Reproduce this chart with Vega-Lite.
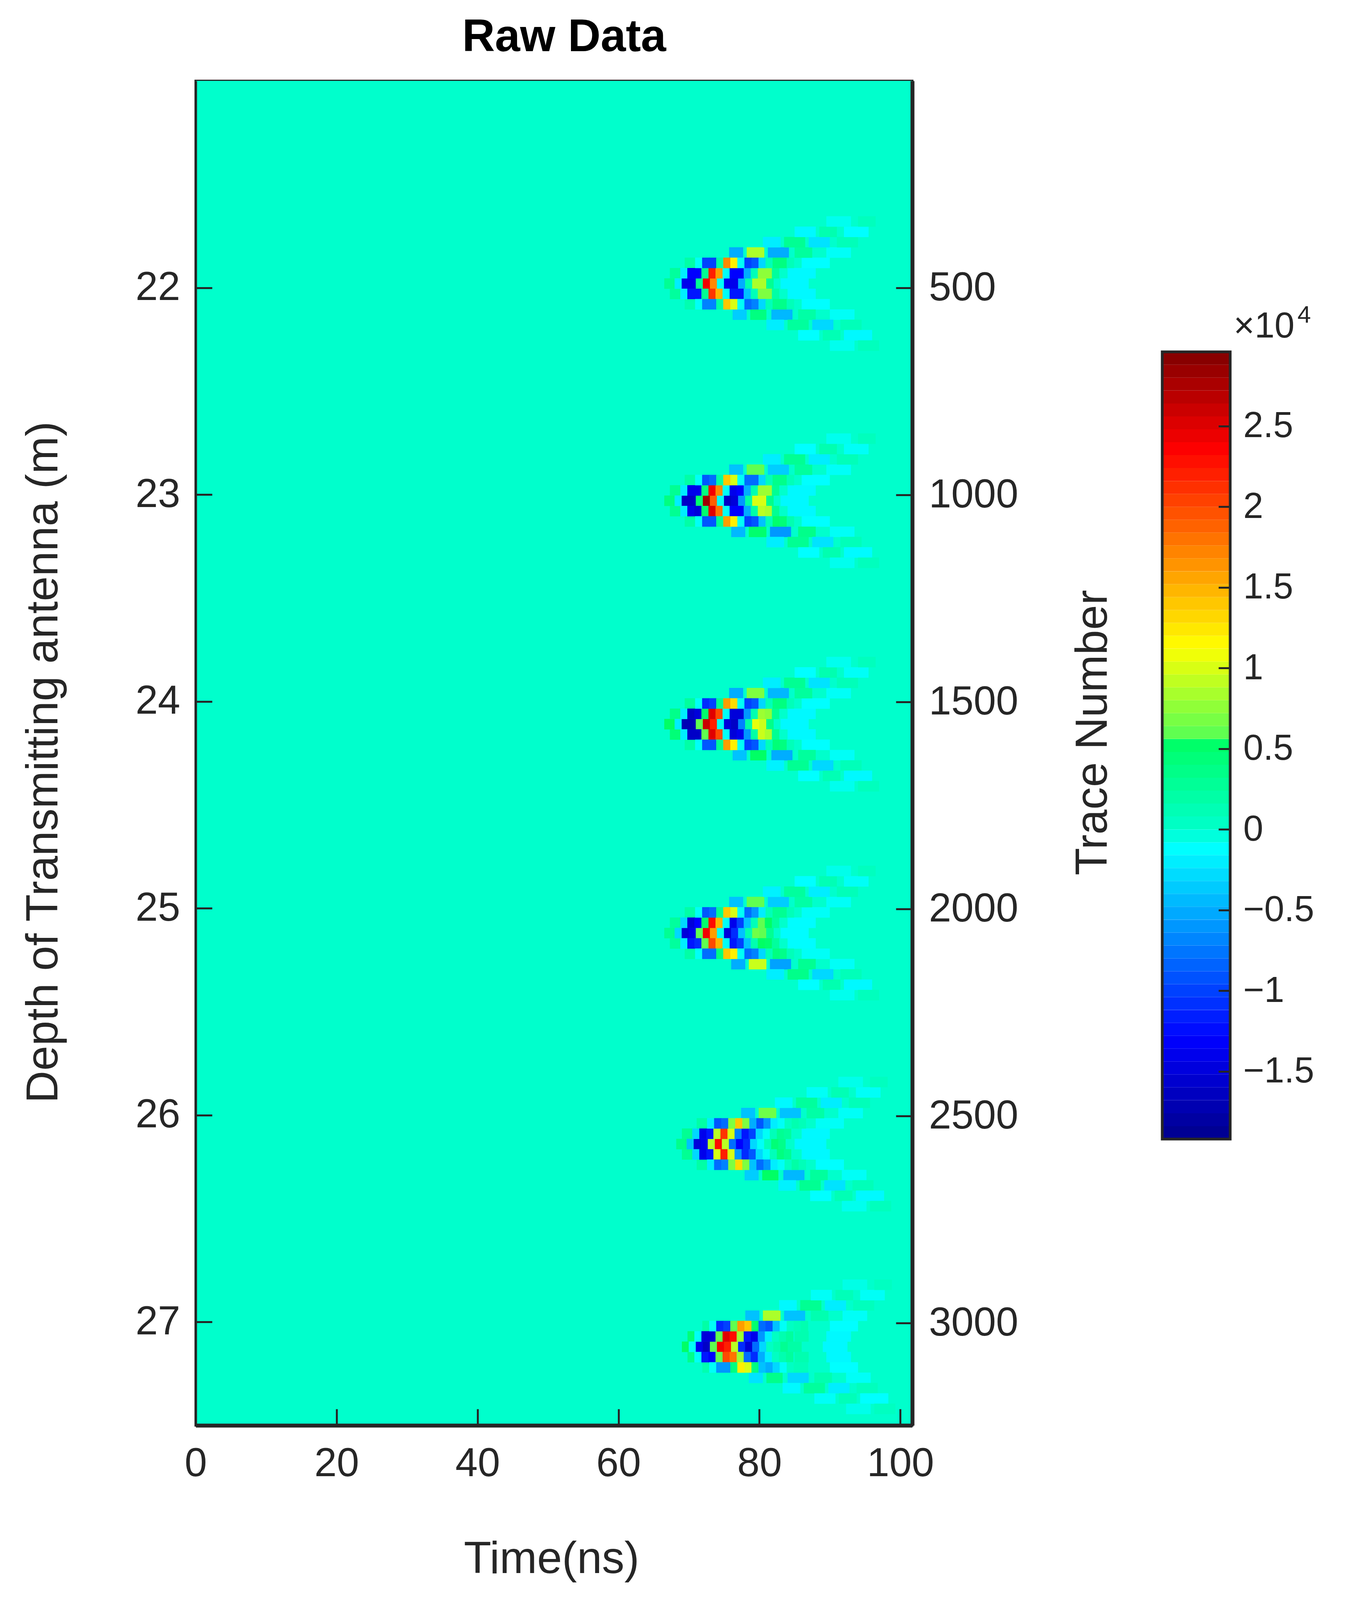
{
"$schema":"https://vega.github.io/schema/vega-lite/v6.json",
"background":"white",
"padding":{"left":51,"top":35,"right":0,"bottom":0},
"bounds":"flush",
"spacing":640,
"config":{"font":"Liberation Sans","view":{"stroke":null},"axis":{"grid":false,"labelLimit":2000,"titleLimit":4000,"labelFont":"Liberation Sans","labelFontSize":103,"labelColor":"#262626","titleFont":"Liberation Sans","titleFontSize":115,"titleFontWeight":"normal","titleColor":"#262626","tickColor":"#262626","tickWidth":5,"domainColor":"#262626"}},
"datasets":{
"core":[
{"t":68.5,"d":21.98,"v":-0.2},{"t":69.5,"d":21.98,"v":-1.4},{"t":70.5,"d":21.98,"v":-1.4},{"t":71.5,"d":21.98,"v":0.3},{"t":72.5,"d":21.98,"v":2.4},{"t":73.5,"d":21.98,"v":1.7},{"t":74.5,"d":21.98,"v":-0.1},{"t":75.5,"d":21.98,"v":-1.4},{"t":76.5,"d":21.98,"v":-1.4},{"t":77.5,"d":21.98,"v":-0.5},{"t":78.5,"d":21.98,"v":0.15},{"t":79.5,"d":21.98,"v":0.85},{"t":80.5,"d":21.98,"v":0.85},{"t":81.5,"d":21.98,"v":0.3},
{"t":69.3,"d":21.93,"v":-0.2},{"t":70.3,"d":21.93,"v":-1.3},{"t":71.3,"d":21.93,"v":-1.3},{"t":72.3,"d":21.93,"v":0.3},{"t":73.3,"d":21.93,"v":2.2},{"t":74.3,"d":21.93,"v":1.6},{"t":75.3,"d":21.93,"v":-0.1},{"t":76.3,"d":21.93,"v":-1.3},{"t":77.3,"d":21.93,"v":-1.3},{"t":78.3,"d":21.93,"v":-0.5},{"t":79.3,"d":21.93,"v":0.1},{"t":80.3,"d":21.93,"v":0.75},{"t":81.3,"d":21.93,"v":0.75},{"t":82.3,"d":21.93,"v":0.25},
{"t":69.3,"d":22.03,"v":-0.2},{"t":70.3,"d":22.03,"v":-1.2},{"t":71.3,"d":22.03,"v":-1.2},{"t":72.3,"d":22.03,"v":0.3},{"t":73.3,"d":22.03,"v":2.1},{"t":74.3,"d":22.03,"v":1.5},{"t":75.3,"d":22.03,"v":-0.1},{"t":76.3,"d":22.03,"v":-1.2},{"t":77.3,"d":22.03,"v":-1.2},{"t":78.3,"d":22.03,"v":-0.4},{"t":79.3,"d":22.03,"v":0.1},{"t":80.3,"d":22.03,"v":0.7},{"t":81.3,"d":22.03,"v":0.7},{"t":82.3,"d":22.03,"v":0.2},
{"t":71.4,"d":21.88,"v":-0.1},{"t":72.4,"d":21.88,"v":-1},{"t":73.4,"d":21.88,"v":-1},{"t":74.4,"d":21.88,"v":0.2},{"t":75.4,"d":21.88,"v":1.7},{"t":76.4,"d":21.88,"v":1.2},{"t":77.4,"d":21.88,"v":-0.1},{"t":78.4,"d":21.88,"v":-1},{"t":79.4,"d":21.88,"v":-0.9},{"t":80.4,"d":21.88,"v":-0.3},{"t":81.4,"d":21.88,"v":0.1},{"t":82.4,"d":21.88,"v":0.4},{"t":83.4,"d":21.88,"v":0.4},{"t":84.4,"d":21.88,"v":0.1},
{"t":71.4,"d":22.08,"v":-0.1},{"t":72.4,"d":22.08,"v":-0.7},{"t":73.4,"d":22.08,"v":-0.7},{"t":74.4,"d":22.08,"v":0.2},{"t":75.4,"d":22.08,"v":1.4},{"t":76.4,"d":22.08,"v":1},{"t":77.4,"d":22.08,"v":-0.1},{"t":78.4,"d":22.08,"v":-0.8},{"t":79.4,"d":22.08,"v":-0.7},{"t":80.4,"d":22.08,"v":-0.3},{"t":81.4,"d":22.08,"v":0.1},{"t":82.4,"d":22.08,"v":0.35},{"t":83.4,"d":22.08,"v":0.35},{"t":84.4,"d":22.08,"v":0.1},

{"t":68.5,"d":23.03,"v":-0.2},{"t":69.5,"d":23.03,"v":-1.6},{"t":70.5,"d":23.03,"v":-1.6},{"t":71.5,"d":23.03,"v":0.5},{"t":72.5,"d":23.03,"v":2.8},{"t":73.5,"d":23.03,"v":1.9},{"t":74.5,"d":23.03,"v":-0.1},{"t":75.5,"d":23.03,"v":-1.6},{"t":76.5,"d":23.03,"v":-1.5},{"t":77.5,"d":23.03,"v":-0.6},{"t":78.5,"d":23.03,"v":0.2},{"t":79.5,"d":23.03,"v":1},{"t":80.5,"d":23.03,"v":1},{"t":81.5,"d":23.03,"v":0.35},
{"t":69.3,"d":22.98,"v":-0.2},{"t":70.3,"d":22.98,"v":-1.4},{"t":71.3,"d":22.98,"v":-1.4},{"t":72.3,"d":22.98,"v":0.4},{"t":73.3,"d":22.98,"v":2.4},{"t":74.3,"d":22.98,"v":1.7},{"t":75.3,"d":22.98,"v":-0.1},{"t":76.3,"d":22.98,"v":-1.4},{"t":77.3,"d":22.98,"v":-1.3},{"t":78.3,"d":22.98,"v":-0.5},{"t":79.3,"d":22.98,"v":0.15},{"t":80.3,"d":22.98,"v":0.8},{"t":81.3,"d":22.98,"v":0.8},{"t":82.3,"d":22.98,"v":0.3},
{"t":69.3,"d":23.08,"v":-0.2},{"t":70.3,"d":23.08,"v":-1.4},{"t":71.3,"d":23.08,"v":-1.5},{"t":72.3,"d":23.08,"v":0.5},{"t":73.3,"d":23.08,"v":2.5},{"t":74.3,"d":23.08,"v":1.8},{"t":75.3,"d":23.08,"v":-0.1},{"t":76.3,"d":23.08,"v":-1.3},{"t":77.3,"d":23.08,"v":-1.3},{"t":78.3,"d":23.08,"v":-0.5},{"t":79.3,"d":23.08,"v":0.2},{"t":80.3,"d":23.08,"v":0.9},{"t":81.3,"d":23.08,"v":0.85},{"t":82.3,"d":23.08,"v":0.3},
{"t":71.4,"d":22.93,"v":-0.1},{"t":72.4,"d":22.93,"v":-0.9},{"t":73.4,"d":22.93,"v":-0.8},{"t":74.4,"d":22.93,"v":0.2},{"t":75.4,"d":22.93,"v":1.4},{"t":76.4,"d":22.93,"v":1},{"t":77.4,"d":22.93,"v":-0.1},{"t":78.4,"d":22.93,"v":-0.8},{"t":79.4,"d":22.93,"v":-0.8},{"t":80.4,"d":22.93,"v":-0.3},{"t":81.4,"d":22.93,"v":0.1},{"t":82.4,"d":22.93,"v":0.35},{"t":83.4,"d":22.93,"v":0.35},{"t":84.4,"d":22.93,"v":0.1},
{"t":71.4,"d":23.13,"v":-0.1},{"t":72.4,"d":23.13,"v":-0.9},{"t":73.4,"d":23.13,"v":-0.9},{"t":74.4,"d":23.13,"v":0.3},{"t":75.4,"d":23.13,"v":1.6},{"t":76.4,"d":23.13,"v":1.2},{"t":77.4,"d":23.13,"v":-0.1},{"t":78.4,"d":23.13,"v":-1},{"t":79.4,"d":23.13,"v":-0.9},{"t":80.4,"d":23.13,"v":-0.4},{"t":81.4,"d":23.13,"v":0.1},{"t":82.4,"d":23.13,"v":0.5},{"t":83.4,"d":23.13,"v":0.45},{"t":84.4,"d":23.13,"v":0.15},

{"t":68.5,"d":24.11,"v":-0.2},{"t":69.5,"d":24.11,"v":-1.7},{"t":70.5,"d":24.11,"v":-1.7},{"t":71.5,"d":24.11,"v":0.6},{"t":72.5,"d":24.11,"v":2.6},{"t":73.5,"d":24.11,"v":2.2},{"t":74.5,"d":24.11,"v":-0.1},{"t":75.5,"d":24.11,"v":-1.5},{"t":76.5,"d":24.11,"v":-1.6},{"t":77.5,"d":24.11,"v":-0.7},{"t":78.5,"d":24.11,"v":0.2},{"t":79.5,"d":24.11,"v":1.05},{"t":80.5,"d":24.11,"v":0.95},{"t":81.5,"d":24.11,"v":0.35},
{"t":69.3,"d":24.06,"v":-0.2},{"t":70.3,"d":24.06,"v":-1.6},{"t":71.3,"d":24.06,"v":-1.5},{"t":72.3,"d":24.06,"v":0.5},{"t":73.3,"d":24.06,"v":2.5},{"t":74.3,"d":24.06,"v":2},{"t":75.3,"d":24.06,"v":-0.1},{"t":76.3,"d":24.06,"v":-1.5},{"t":77.3,"d":24.06,"v":-1.5},{"t":78.3,"d":24.06,"v":-0.6},{"t":79.3,"d":24.06,"v":0.15},{"t":80.3,"d":24.06,"v":0.8},{"t":81.3,"d":24.06,"v":0.75},{"t":82.3,"d":24.06,"v":0.3},
{"t":69.3,"d":24.16,"v":-0.2},{"t":70.3,"d":24.16,"v":-1.6},{"t":71.3,"d":24.16,"v":-1.6},{"t":72.3,"d":24.16,"v":0.6},{"t":73.3,"d":24.16,"v":2.5},{"t":74.3,"d":24.16,"v":2},{"t":75.3,"d":24.16,"v":-0.1},{"t":76.3,"d":24.16,"v":-1.5},{"t":77.3,"d":24.16,"v":-1.4},{"t":78.3,"d":24.16,"v":-0.6},{"t":79.3,"d":24.16,"v":0.2},{"t":80.3,"d":24.16,"v":0.95},{"t":81.3,"d":24.16,"v":0.85},{"t":82.3,"d":24.16,"v":0.3},
{"t":71.4,"d":24.01,"v":-0.1},{"t":72.4,"d":24.01,"v":-1.1},{"t":73.4,"d":24.01,"v":-1},{"t":74.4,"d":24.01,"v":0.3},{"t":75.4,"d":24.01,"v":1.6},{"t":76.4,"d":24.01,"v":1.3},{"t":77.4,"d":24.01,"v":-0.1},{"t":78.4,"d":24.01,"v":-1},{"t":79.4,"d":24.01,"v":-0.9},{"t":80.4,"d":24.01,"v":-0.3},{"t":81.4,"d":24.01,"v":0.1},{"t":82.4,"d":24.01,"v":0.4},{"t":83.4,"d":24.01,"v":0.4},{"t":84.4,"d":24.01,"v":0.1},
{"t":71.4,"d":24.21,"v":-0.1},{"t":72.4,"d":24.21,"v":-0.9},{"t":73.4,"d":24.21,"v":-0.9},{"t":74.4,"d":24.21,"v":0.3},{"t":75.4,"d":24.21,"v":1.6},{"t":76.4,"d":24.21,"v":1.2},{"t":77.4,"d":24.21,"v":-0.1},{"t":78.4,"d":24.21,"v":-1},{"t":79.4,"d":24.21,"v":-0.9},{"t":80.4,"d":24.21,"v":-0.3},{"t":81.4,"d":24.21,"v":0.1},{"t":82.4,"d":24.21,"v":0.45},{"t":83.4,"d":24.21,"v":0.4},{"t":84.4,"d":24.21,"v":0.1},

{"t":68.5,"d":25.12,"v":-0.3},{"t":69.5,"d":25.12,"v":-1.5},{"t":70.5,"d":25.12,"v":-1.4},{"t":71.5,"d":25.12,"v":0.6},{"t":72.5,"d":25.12,"v":2.4},{"t":73.5,"d":25.12,"v":1.6},{"t":74.5,"d":25.12,"v":-0.1},{"t":75.5,"d":25.12,"v":-1.5},{"t":76.5,"d":25.12,"v":-1.1},{"t":77.5,"d":25.12,"v":-0.4},{"t":78.5,"d":25.12,"v":0.15},{"t":79.5,"d":25.12,"v":0.65},{"t":80.5,"d":25.12,"v":0.6},{"t":81.5,"d":25.12,"v":0.3},
{"t":69.3,"d":25.07,"v":-0.3},{"t":70.3,"d":25.07,"v":-1.5},{"t":71.3,"d":25.07,"v":-1.3},{"t":72.3,"d":25.07,"v":0.5},{"t":73.3,"d":25.07,"v":2.3},{"t":74.3,"d":25.07,"v":1.5},{"t":75.3,"d":25.07,"v":-0.1},{"t":76.3,"d":25.07,"v":-1.4},{"t":77.3,"d":25.07,"v":-1},{"t":78.3,"d":25.07,"v":-0.4},{"t":79.3,"d":25.07,"v":0.1},{"t":80.3,"d":25.07,"v":0.6},{"t":81.3,"d":25.07,"v":0.55},{"t":82.3,"d":25.07,"v":0.25},
{"t":69.3,"d":25.17,"v":-0.2},{"t":70.3,"d":25.17,"v":-1.2},{"t":71.3,"d":25.17,"v":-1.1},{"t":72.3,"d":25.17,"v":0.6},{"t":73.3,"d":25.17,"v":2},{"t":74.3,"d":25.17,"v":1.5},{"t":75.3,"d":25.17,"v":-0.1},{"t":76.3,"d":25.17,"v":-1.2},{"t":77.3,"d":25.17,"v":-1},{"t":78.3,"d":25.17,"v":-0.4},{"t":79.3,"d":25.17,"v":0.15},{"t":80.3,"d":25.17,"v":0.55},{"t":81.3,"d":25.17,"v":0.5},{"t":82.3,"d":25.17,"v":0.25},
{"t":71.4,"d":25.02,"v":-0.1},{"t":72.4,"d":25.02,"v":-0.9},{"t":73.4,"d":25.02,"v":-0.8},{"t":74.4,"d":25.02,"v":0.3},{"t":75.4,"d":25.02,"v":1.4},{"t":76.4,"d":25.02,"v":1},{"t":77.4,"d":25.02,"v":-0.1},{"t":78.4,"d":25.02,"v":-0.8},{"t":79.4,"d":25.02,"v":-0.6},{"t":80.4,"d":25.02,"v":-0.2},{"t":81.4,"d":25.02,"v":0.1},{"t":82.4,"d":25.02,"v":0.3},{"t":83.4,"d":25.02,"v":0.3},{"t":84.4,"d":25.02,"v":0.1},
{"t":71.4,"d":25.22,"v":-0.1},{"t":72.4,"d":25.22,"v":-0.8},{"t":73.4,"d":25.22,"v":-0.8},{"t":74.4,"d":25.22,"v":0.4},{"t":75.4,"d":25.22,"v":1.4},{"t":76.4,"d":25.22,"v":1.2},{"t":77.4,"d":25.22,"v":-0.1},{"t":78.4,"d":25.22,"v":-0.8},{"t":79.4,"d":25.22,"v":-0.7},{"t":80.4,"d":25.22,"v":-0.3},{"t":81.4,"d":25.22,"v":0.1},{"t":82.4,"d":25.22,"v":0.4},{"t":83.4,"d":25.22,"v":0.35},{"t":84.4,"d":25.22,"v":0.1},

{"t":70.2,"d":26.14,"v":-0.4},{"t":71.2,"d":26.14,"v":-1.5},{"t":72.2,"d":26.14,"v":-1.4},{"t":73.2,"d":26.14,"v":0.9},{"t":74.2,"d":26.14,"v":2.3},{"t":75.2,"d":26.14,"v":0.9},{"t":76.2,"d":26.14,"v":-0.8},{"t":77.2,"d":26.14,"v":-1.3},{"t":78.2,"d":26.14,"v":-1.1},{"t":79.2,"d":26.14,"v":-0.3},{"t":80.2,"d":26.14,"v":-0.1},{"t":81.2,"d":26.14,"v":0.1},{"t":82.2,"d":26.14,"v":0.45},{"t":83.2,"d":26.14,"v":0.35},
{"t":71,"d":26.09,"v":-0.3},{"t":72,"d":26.09,"v":-1.4},{"t":73,"d":26.09,"v":-1.2},{"t":74,"d":26.09,"v":0.9},{"t":75,"d":26.09,"v":2.1},{"t":76,"d":26.09,"v":1},{"t":77,"d":26.09,"v":-0.7},{"t":78,"d":26.09,"v":-1.2},{"t":79,"d":26.09,"v":-1},{"t":80,"d":26.09,"v":-0.3},{"t":81,"d":26.09,"v":-0.1},{"t":82,"d":26.09,"v":0.1},{"t":83,"d":26.09,"v":0.3},{"t":84,"d":26.09,"v":0.25},
{"t":71,"d":26.19,"v":-0.3},{"t":72,"d":26.19,"v":-1.4},{"t":73,"d":26.19,"v":-1.2},{"t":74,"d":26.19,"v":1},{"t":75,"d":26.19,"v":2.2},{"t":76,"d":26.19,"v":1},{"t":77,"d":26.19,"v":-0.6},{"t":78,"d":26.19,"v":-1.1},{"t":79,"d":26.19,"v":-0.9},{"t":80,"d":26.19,"v":-0.3},{"t":81,"d":26.19,"v":-0.1},{"t":82,"d":26.19,"v":0.1},{"t":83,"d":26.19,"v":0.4},{"t":84,"d":26.19,"v":0.3},
{"t":73.1,"d":26.04,"v":-0.2},{"t":74.1,"d":26.04,"v":-0.9},{"t":75.1,"d":26.04,"v":-0.8},{"t":76.1,"d":26.04,"v":0.7},{"t":77.1,"d":26.04,"v":1.4},{"t":78.1,"d":26.04,"v":0.7},{"t":79.1,"d":26.04,"v":-0.5},{"t":80.1,"d":26.04,"v":-0.9},{"t":81.1,"d":26.04,"v":-0.6},{"t":82.1,"d":26.04,"v":-0.2},{"t":83.1,"d":26.04,"v":-0.1},{"t":84.1,"d":26.04,"v":0.05},{"t":85.1,"d":26.04,"v":0.15},{"t":86.1,"d":26.04,"v":0.1},
{"t":73.1,"d":26.24,"v":-0.2},{"t":74.1,"d":26.24,"v":-0.8},{"t":75.1,"d":26.24,"v":-0.7},{"t":76.1,"d":26.24,"v":0.7},{"t":77.1,"d":26.24,"v":1.3},{"t":78.1,"d":26.24,"v":0.7},{"t":79.1,"d":26.24,"v":-0.4},{"t":80.1,"d":26.24,"v":-0.8},{"t":81.1,"d":26.24,"v":-0.6},{"t":82.1,"d":26.24,"v":-0.2},{"t":83.1,"d":26.24,"v":-0.1},{"t":84.1,"d":26.24,"v":0.05},{"t":85.1,"d":26.24,"v":0.2},{"t":86.1,"d":26.24,"v":0.1},

{"t":70.5,"d":27.12,"v":-0.1},{"t":71.5,"d":27.12,"v":-1.4},{"t":72.5,"d":27.12,"v":-1.6},{"t":73.5,"d":27.12,"v":0.6},{"t":74.5,"d":27.12,"v":2.4},{"t":75.5,"d":27.12,"v":2.2},{"t":76.5,"d":27.12,"v":0.9},{"t":77.5,"d":27.12,"v":-1.1},{"t":78.5,"d":27.12,"v":-1.5},{"t":79.5,"d":27.12,"v":-0.8},{"t":80.5,"d":27.12,"v":-0.3},{"t":81.5,"d":27.12,"v":0.05},{"t":82.5,"d":27.12,"v":0.15},{"t":83.5,"d":27.12,"v":0.3},
{"t":71.3,"d":27.07,"v":-0.1},{"t":72.3,"d":27.07,"v":-1.5},{"t":73.3,"d":27.07,"v":-1.5},{"t":74.3,"d":27.07,"v":0.6},{"t":75.3,"d":27.07,"v":2.5},{"t":76.3,"d":27.07,"v":2.3},{"t":77.3,"d":27.07,"v":0.8},{"t":78.3,"d":27.07,"v":-1.2},{"t":79.3,"d":27.07,"v":-1.4},{"t":80.3,"d":27.07,"v":-0.6},{"t":81.3,"d":27.07,"v":-0.2},{"t":82.3,"d":27.07,"v":0.05},{"t":83.3,"d":27.07,"v":0.15},{"t":84.3,"d":27.07,"v":0.25},
{"t":71.3,"d":27.17,"v":-0.1},{"t":72.3,"d":27.17,"v":-1.2},{"t":73.3,"d":27.17,"v":-1.3},{"t":74.3,"d":27.17,"v":0.6},{"t":75.3,"d":27.17,"v":2},{"t":76.3,"d":27.17,"v":1.8},{"t":77.3,"d":27.17,"v":0.8},{"t":78.3,"d":27.17,"v":-0.8},{"t":79.3,"d":27.17,"v":-1.1},{"t":80.3,"d":27.17,"v":-0.5},{"t":81.3,"d":27.17,"v":-0.2},{"t":82.3,"d":27.17,"v":0.05},{"t":83.3,"d":27.17,"v":0.15},{"t":84.3,"d":27.17,"v":0.25},
{"t":73.4,"d":27.02,"v":-0.1},{"t":74.4,"d":27.02,"v":-1.1},{"t":75.4,"d":27.02,"v":-1},{"t":76.4,"d":27.02,"v":0.6},{"t":77.4,"d":27.02,"v":1.6},{"t":78.4,"d":27.02,"v":1.4},{"t":79.4,"d":27.02,"v":0.5},{"t":80.4,"d":27.02,"v":-0.8},{"t":81.4,"d":27.02,"v":-0.9},{"t":82.4,"d":27.02,"v":-0.4},{"t":83.4,"d":27.02,"v":-0.1},{"t":84.4,"d":27.02,"v":0.05},{"t":85.4,"d":27.02,"v":0.1},{"t":86.4,"d":27.02,"v":0.15},
{"t":73.4,"d":27.22,"v":-0.1},{"t":74.4,"d":27.22,"v":-0.6},{"t":75.4,"d":27.22,"v":-0.6},{"t":76.4,"d":27.22,"v":0.4},{"t":77.4,"d":27.22,"v":1.2},{"t":78.4,"d":27.22,"v":1},{"t":79.4,"d":27.22,"v":0.4},{"t":80.4,"d":27.22,"v":-0.4},{"t":81.4,"d":27.22,"v":-0.5},{"t":82.4,"d":27.22,"v":-0.3},{"t":83.4,"d":27.22,"v":-0.1},{"t":84.4,"d":27.22,"v":0.05},{"t":85.4,"d":27.22,"v":0.1},{"t":86.4,"d":27.22,"v":0.1}
],
"runs":[
{"t":66.5,"t2":68,"d":21.98,"v":0.3},{"t":83,"t2":87,"d":21.98,"v":-0.15},{"t":67.3,"t2":68.8,"d":21.93,"v":0.25},{"t":84,"t2":88,"d":21.93,"v":-0.15},{"t":67.3,"t2":68.8,"d":22.03,"v":0.25},{"t":84,"t2":88,"d":22.03,"v":-0.15},{"t":69.4,"t2":70.9,"d":21.88,"v":0.2},{"t":86,"t2":90,"d":21.88,"v":-0.12},{"t":69.4,"t2":70.9,"d":22.08,"v":0.15},{"t":86,"t2":90,"d":22.08,"v":-0.12},
{"t":75.7,"t2":77.7,"d":21.83,"v":-0.5},{"t":78.2,"t2":80.7,"d":21.83,"v":0.85},{"t":81.2,"t2":84.2,"d":21.83,"v":-0.5},{"t":85,"t2":87.5,"d":21.83,"v":0.25},{"t":89.5,"t2":93,"d":21.83,"v":-0.1},
{"t":76.2,"t2":78.2,"d":22.13,"v":-0.35},{"t":78.7,"t2":81,"d":22.13,"v":0.4},{"t":81.7,"t2":84.7,"d":22.13,"v":-0.45},{"t":85.5,"t2":88,"d":22.13,"v":0.2},{"t":90,"t2":93.5,"d":22.13,"v":-0.1},
{"t":80.5,"t2":83,"d":21.78,"v":-0.2},{"t":83.5,"t2":86.5,"d":21.78,"v":0.3},{"t":87,"t2":90,"d":21.78,"v":-0.25},{"t":91,"t2":94,"d":21.78,"v":0.1},
{"t":81,"t2":83.5,"d":22.18,"v":-0.2},{"t":84,"t2":87,"d":22.18,"v":0.25},{"t":87.5,"t2":90.5,"d":22.18,"v":-0.3},{"t":91.5,"t2":94.5,"d":22.18,"v":0.1},
{"t":85,"t2":88,"d":21.73,"v":-0.15},{"t":88.5,"t2":91,"d":21.73,"v":0.15},{"t":92,"t2":95.5,"d":21.73,"v":-0.12},
{"t":85.5,"t2":88.5,"d":22.23,"v":-0.12},{"t":89,"t2":91.5,"d":22.23,"v":0.12},{"t":92,"t2":96,"d":22.23,"v":-0.15},
{"t":89.5,"t2":93,"d":21.68,"v":-0.08},{"t":94,"t2":96.5,"d":21.68,"v":0.08},{"t":90,"t2":93.5,"d":22.28,"v":-0.08},{"t":94,"t2":97,"d":22.28,"v":0.08},

{"t":66.5,"t2":68,"d":23.03,"v":0.4},{"t":83,"t2":87,"d":23.03,"v":-0.15},{"t":67.3,"t2":68.8,"d":22.98,"v":0.3},{"t":84,"t2":88,"d":22.98,"v":-0.15},{"t":67.3,"t2":68.8,"d":23.08,"v":0.3},{"t":84,"t2":88,"d":23.08,"v":-0.15},{"t":69.4,"t2":70.9,"d":22.93,"v":0.2},{"t":86,"t2":90,"d":22.93,"v":-0.12},{"t":69.4,"t2":70.9,"d":23.13,"v":0.2},{"t":86,"t2":90,"d":23.13,"v":-0.12},
{"t":75.7,"t2":77.7,"d":22.88,"v":-0.4},{"t":78.2,"t2":80.7,"d":22.88,"v":0.6},{"t":81.2,"t2":84.2,"d":22.88,"v":-0.35},{"t":85,"t2":87.5,"d":22.88,"v":0.25},{"t":89.5,"t2":93,"d":22.88,"v":-0.1},
{"t":76,"t2":78,"d":23.18,"v":-0.45},{"t":78.5,"t2":81,"d":23.18,"v":0.5},{"t":81.5,"t2":84.5,"d":23.18,"v":-0.6},{"t":85.5,"t2":88,"d":23.18,"v":0.35},{"t":90,"t2":93.5,"d":23.18,"v":-0.1},
{"t":80.5,"t2":83,"d":22.83,"v":-0.2},{"t":83.5,"t2":86.5,"d":22.83,"v":0.3},{"t":87,"t2":90,"d":22.83,"v":-0.2},{"t":91,"t2":94,"d":22.83,"v":0.1},
{"t":81,"t2":83.5,"d":23.23,"v":-0.2},{"t":84,"t2":87,"d":23.23,"v":0.3},{"t":87.5,"t2":90.5,"d":23.23,"v":-0.25},{"t":91.5,"t2":94.5,"d":23.23,"v":0.1},
{"t":85,"t2":88,"d":22.78,"v":-0.12},{"t":88.5,"t2":91,"d":22.78,"v":0.15},{"t":92,"t2":95.5,"d":22.78,"v":-0.1},
{"t":85.5,"t2":88.5,"d":23.28,"v":-0.12},{"t":89,"t2":91.5,"d":23.28,"v":0.15},{"t":92,"t2":96,"d":23.28,"v":-0.14},
{"t":89.5,"t2":93,"d":22.73,"v":-0.08},{"t":94,"t2":96.5,"d":22.73,"v":0.08},{"t":90,"t2":93.5,"d":23.33,"v":-0.08},{"t":94,"t2":97,"d":23.33,"v":0.08},

{"t":66.5,"t2":68,"d":24.11,"v":0.55},{"t":83,"t2":87,"d":24.11,"v":-0.15},{"t":67.3,"t2":68.8,"d":24.06,"v":0.35},{"t":84,"t2":88,"d":24.06,"v":-0.15},{"t":67.3,"t2":68.8,"d":24.16,"v":0.45},{"t":84,"t2":88,"d":24.16,"v":-0.15},{"t":69.4,"t2":70.9,"d":24.01,"v":0.25},{"t":86,"t2":90,"d":24.01,"v":-0.12},{"t":69.4,"t2":70.9,"d":24.21,"v":0.2},{"t":86,"t2":90,"d":24.21,"v":-0.12},
{"t":75.7,"t2":77.7,"d":23.96,"v":-0.5},{"t":78.2,"t2":80.7,"d":23.96,"v":0.7},{"t":81.2,"t2":84.2,"d":23.96,"v":-0.45},{"t":85,"t2":87.5,"d":23.96,"v":0.25},{"t":89.5,"t2":93,"d":23.96,"v":-0.1},
{"t":76.2,"t2":78.2,"d":24.26,"v":-0.4},{"t":78.7,"t2":81,"d":24.26,"v":0.55},{"t":81.7,"t2":84.7,"d":24.26,"v":-0.5},{"t":85.5,"t2":88,"d":24.26,"v":0.25},{"t":90,"t2":93.5,"d":24.26,"v":-0.1},
{"t":80.5,"t2":83,"d":23.91,"v":-0.2},{"t":83.5,"t2":86.5,"d":23.91,"v":0.3},{"t":87,"t2":90,"d":23.91,"v":-0.25},{"t":91,"t2":94,"d":23.91,"v":0.1},
{"t":81,"t2":83.5,"d":24.31,"v":-0.18},{"t":84,"t2":87,"d":24.31,"v":0.3},{"t":87.5,"t2":90.5,"d":24.31,"v":-0.3},{"t":91.5,"t2":94.5,"d":24.31,"v":0.1},
{"t":85,"t2":88,"d":23.86,"v":-0.12},{"t":88.5,"t2":91,"d":23.86,"v":0.15},{"t":92,"t2":95.5,"d":23.86,"v":-0.1},
{"t":85.5,"t2":88.5,"d":24.36,"v":-0.12},{"t":89,"t2":91.5,"d":24.36,"v":0.12},{"t":92,"t2":96,"d":24.36,"v":-0.15},
{"t":89.5,"t2":93,"d":23.81,"v":-0.08},{"t":94,"t2":96.5,"d":23.81,"v":0.08},{"t":90,"t2":93.5,"d":24.41,"v":-0.08},{"t":94,"t2":97,"d":24.41,"v":0.08},

{"t":66.5,"t2":68,"d":25.12,"v":0.3},{"t":83,"t2":87,"d":25.12,"v":-0.13},{"t":67.3,"t2":68.8,"d":25.07,"v":0.25},{"t":84,"t2":88,"d":25.07,"v":-0.13},{"t":67.3,"t2":68.8,"d":25.17,"v":0.25},{"t":84,"t2":88,"d":25.17,"v":-0.13},{"t":69.4,"t2":70.9,"d":25.02,"v":0.2},{"t":86,"t2":90,"d":25.02,"v":-0.1},{"t":69.4,"t2":70.9,"d":25.22,"v":0.2},{"t":86,"t2":90,"d":25.22,"v":-0.1},
{"t":75.7,"t2":77.7,"d":24.97,"v":-0.4},{"t":78.2,"t2":80.7,"d":24.97,"v":0.6},{"t":81.2,"t2":84.2,"d":24.97,"v":-0.35},{"t":85,"t2":87.5,"d":24.97,"v":0.2},{"t":89.5,"t2":93,"d":24.97,"v":-0.1},
{"t":76,"t2":78,"d":25.27,"v":-0.5},{"t":78.5,"t2":81,"d":25.27,"v":0.95},{"t":81.5,"t2":84.5,"d":25.27,"v":-0.55},{"t":85.5,"t2":88,"d":25.27,"v":0.3},{"t":90,"t2":93.5,"d":25.27,"v":-0.1},
{"t":80.5,"t2":83,"d":24.92,"v":-0.18},{"t":83.5,"t2":86.5,"d":24.92,"v":0.25},{"t":87,"t2":90,"d":24.92,"v":-0.2},{"t":91,"t2":94,"d":24.92,"v":0.1},
{"t":81,"t2":83.5,"d":25.32,"v":-0.2},{"t":84,"t2":87,"d":25.32,"v":0.35},{"t":87.5,"t2":90.5,"d":25.32,"v":-0.3},{"t":91.5,"t2":94.5,"d":25.32,"v":0.1},
{"t":85,"t2":88,"d":24.87,"v":-0.12},{"t":88.5,"t2":91,"d":24.87,"v":0.12},{"t":92,"t2":95.5,"d":24.87,"v":-0.1},
{"t":85.5,"t2":88.5,"d":25.37,"v":-0.12},{"t":89,"t2":91.5,"d":25.37,"v":0.15},{"t":92,"t2":96,"d":25.37,"v":-0.15},
{"t":89.5,"t2":93,"d":24.82,"v":-0.07},{"t":94,"t2":96.5,"d":24.82,"v":0.07},{"t":90,"t2":93.5,"d":25.42,"v":-0.08},{"t":94,"t2":97,"d":25.42,"v":0.08},

{"t":68.2,"t2":69.7,"d":26.14,"v":0.35},{"t":85,"t2":89.5,"d":26.14,"v":-0.15},{"t":69,"t2":70.5,"d":26.09,"v":0.3},{"t":86,"t2":90,"d":26.09,"v":-0.15},{"t":69,"t2":70.5,"d":26.19,"v":0.3},{"t":86,"t2":90,"d":26.19,"v":-0.15},{"t":71.1,"t2":72.6,"d":26.04,"v":0.2},{"t":88,"t2":92,"d":26.04,"v":-0.1},{"t":71.1,"t2":72.6,"d":26.24,"v":0.2},{"t":88,"t2":92,"d":26.24,"v":-0.12},
{"t":77.4,"t2":79.4,"d":25.99,"v":-0.4},{"t":79.9,"t2":82.4,"d":25.99,"v":0.65},{"t":82.9,"t2":85.9,"d":25.99,"v":-0.4},{"t":86.7,"t2":89.2,"d":25.99,"v":0.2},{"t":91.2,"t2":94.7,"d":25.99,"v":-0.1},
{"t":77.9,"t2":79.9,"d":26.29,"v":-0.35},{"t":80.4,"t2":82.7,"d":26.29,"v":0.55},{"t":83.4,"t2":86.4,"d":26.29,"v":-0.45},{"t":87.2,"t2":89.7,"d":26.29,"v":0.25},{"t":91.7,"t2":95.2,"d":26.29,"v":-0.1},
{"t":82.2,"t2":84.7,"d":25.94,"v":-0.15},{"t":85.2,"t2":88.2,"d":25.94,"v":0.25},{"t":88.7,"t2":91.7,"d":25.94,"v":-0.2},{"t":92.7,"t2":95.7,"d":25.94,"v":0.1},
{"t":82.7,"t2":85.2,"d":26.34,"v":-0.18},{"t":85.7,"t2":88.7,"d":26.34,"v":0.3},{"t":89.2,"t2":92.2,"d":26.34,"v":-0.25},{"t":93.2,"t2":96.2,"d":26.34,"v":0.1},
{"t":86.7,"t2":89.7,"d":25.89,"v":-0.1},{"t":90.2,"t2":92.7,"d":25.89,"v":0.12},{"t":93.7,"t2":97.2,"d":25.89,"v":-0.1},
{"t":87.2,"t2":90.2,"d":26.39,"v":-0.12},{"t":90.7,"t2":93.2,"d":26.39,"v":0.12},{"t":93.7,"t2":97.7,"d":26.39,"v":-0.15},
{"t":91.2,"t2":94.7,"d":25.84,"v":-0.07},{"t":95.7,"t2":98.2,"d":25.84,"v":0.07},{"t":91.7,"t2":95.2,"d":26.44,"v":-0.08},{"t":95.7,"t2":98.7,"d":26.44,"v":0.08},

{"t":69,"t2":70,"d":27.12,"v":0.55},{"t":84,"t2":86,"d":27.12,"v":0.2},{"t":89,"t2":92.5,"d":27.12,"v":-0.15},{"t":69.8,"t2":70.8,"d":27.07,"v":0.45},{"t":85,"t2":87,"d":27.07,"v":0.15},{"t":89.5,"t2":93,"d":27.07,"v":-0.15},{"t":69.8,"t2":70.8,"d":27.17,"v":0.35},{"t":85,"t2":87,"d":27.17,"v":0.15},{"t":89.5,"t2":93,"d":27.17,"v":-0.15},{"t":71.9,"t2":72.9,"d":27.02,"v":0.2},{"t":90,"t2":94,"d":27.02,"v":-0.12},{"t":71.9,"t2":72.9,"d":27.22,"v":0.15},{"t":90,"t2":94,"d":27.22,"v":-0.12},
{"t":78,"t2":80,"d":26.97,"v":-0.4},{"t":80.5,"t2":83,"d":26.97,"v":0.85},{"t":83.5,"t2":86.5,"d":26.97,"v":-0.4},{"t":87.3,"t2":89.8,"d":26.97,"v":0.15},{"t":91.8,"t2":95.3,"d":26.97,"v":-0.1},
{"t":78.5,"t2":80.5,"d":27.27,"v":-0.25},{"t":81,"t2":83.3,"d":27.27,"v":0.35},{"t":84,"t2":87,"d":27.27,"v":-0.3},{"t":87.8,"t2":90.3,"d":27.27,"v":0.15},{"t":92.3,"t2":95.8,"d":27.27,"v":-0.1},
{"t":82.8,"t2":85.3,"d":26.92,"v":-0.15},{"t":85.8,"t2":88.8,"d":26.92,"v":0.3},{"t":89.3,"t2":92.3,"d":26.92,"v":-0.2},{"t":93.3,"t2":96.3,"d":26.92,"v":0.08},
{"t":83.3,"t2":85.8,"d":27.32,"v":-0.15},{"t":86.3,"t2":89.3,"d":27.32,"v":0.25},{"t":89.8,"t2":92.8,"d":27.32,"v":-0.2},{"t":93.8,"t2":96.8,"d":27.32,"v":0.08},
{"t":87.3,"t2":90.3,"d":26.87,"v":-0.1},{"t":90.8,"t2":93.3,"d":26.87,"v":0.1},{"t":94.3,"t2":97.8,"d":26.87,"v":-0.1},
{"t":87.8,"t2":90.8,"d":27.37,"v":-0.1},{"t":91.3,"t2":93.8,"d":27.37,"v":0.1},{"t":94.3,"t2":98.3,"d":27.37,"v":-0.12},
{"t":91.8,"t2":95.3,"d":26.82,"v":-0.06},{"t":96.3,"t2":98.8,"d":26.82,"v":0.06},{"t":92.3,"t2":95.8,"d":27.42,"v":-0.07},{"t":96.3,"t2":99.3,"d":27.42,"v":0.06}
],
"levels":[{"v":-1.88},{"v":-1.8},{"v":-1.72},{"v":-1.64},{"v":-1.56},{"v":-1.48},{"v":-1.4},{"v":-1.32},{"v":-1.24},{"v":-1.16},{"v":-1.08},{"v":-1},{"v":-0.92},{"v":-0.84},{"v":-0.76},{"v":-0.68},{"v":-0.6},{"v":-0.52},{"v":-0.44},{"v":-0.36},{"v":-0.28},{"v":-0.2},{"v":-0.12},{"v":-0.04},{"v":0.04},{"v":0.12},{"v":0.2},{"v":0.28},{"v":0.36},{"v":0.44},{"v":0.52},{"v":0.6},{"v":0.68},{"v":0.76},{"v":0.84},{"v":0.92},{"v":1},{"v":1.08},{"v":1.16},{"v":1.24},{"v":1.32},{"v":1.4},{"v":1.48},{"v":1.56},{"v":1.64},{"v":1.72},{"v":1.8},{"v":1.88},{"v":1.96},{"v":2.04},{"v":2.12},{"v":2.2},{"v":2.28},{"v":2.36},{"v":2.44},{"v":2.52},{"v":2.6},{"v":2.68},{"v":2.76},{"v":2.84},{"v":2.92}]
},
"hconcat":[
{
"width":1835,
"height":3442,
"view":{"stroke":"#262626","strokeWidth":6},
"title":{"text":"Raw Data","fontSize":116,"fontWeight":"bold","color":"black","font":"Liberation Sans","anchor":"middle","dx":26,"offset":52},
"layer":[
{
"encoding":{
"x":{"field":"t","type":"quantitative","scale":{"domain":[0,101.7],"nice":false},"axis":{"zindex":1,"values":[0,20,40,60,80,100],"tickSize":-42,"domainWidth":10,"labelPadding":90,"labelFlush":false,"labelAngle":0,"title":"Time(ns)","titlePadding":136,"titleX":911}},
"y":{"field":"d","type":"quantitative","scale":{"domain":[21,27.5],"reverse":true,"nice":false,"zero":false},"axis":{"zindex":1,"values":[22,23,24,25,26,27],"tickSize":-42,"domainWidth":6,"labelPadding":82,"title":"Depth of Transmitting antenna (m)","titlePadding":176,"titleY":1744}},
"color":{"field":"v","type":"quantitative","legend":null,"scale":{"domain":[-1.92,-1.3,-0.12,0,0.57,0.6,1.13,2.35,2.96],"range":["#00008C","#0000FF","#00FFFF","#00FFCC","#00FF60","#60FF50","#FFFF00","#FF0000","#800000"],"interpolate":"rgb"}}
},
"layer":[
{"data":{"values":[{"t":0,"t2":101.7,"d":21,"d2":27.5,"v":0}]},"mark":{"type":"rect"},"encoding":{"x2":{"field":"t2"},"y2":{"field":"d2"}}},
{"data":{"name":"runs"},"mark":{"type":"rect","height":27},"encoding":{"x2":{"field":"t2"}}},
{"data":{"name":"core"},"mark":{"type":"rect","width":19,"height":27}}
]
},
{
"data":{"values":[{"trace":500},{"trace":1000},{"trace":1500},{"trace":2000},{"trace":2500},{"trace":3000}]},
"mark":{"type":"point","opacity":0},
"encoding":{
"y":{"field":"trace","type":"quantitative","scale":{"domain":[0,3247],"reverse":true,"nice":false},"axis":{"zindex":1,"orient":"right","values":[500,1000,1500,2000,2500,3000],"format":"d","tickSize":-42,"domainWidth":10,"labelPadding":84,"title":"Trace Number","titleAngle":270,"titlePadding":321,"titleY":1668}}
}
}
],
"resolve":{"scale":{"y":"independent"},"axis":{"y":"independent"}}
},
{
"width":174,
"height":3442,
"layer":[
{"data":{"name":"levels"},"mark":{"type":"rect","height":33},
"encoding":{"x":{"datum":0,"type":"quantitative","scale":{"domain":[0,1],"nice":false},"axis":null},"x2":{"datum":1},
"y":{"field":"v","type":"quantitative","scale":{"domain":[-3.695,4.64],"nice":false,"zero":false},"axis":{"zindex":1,"values":[-1.5,-1,-0.5,0,0.5,1,1.5,2,2.5],"format":"~g","orient":"right","tickSize":-30,"labelFontSize":92,"labelPadding":63,"domain":false,"title":null}},
"color":{"field":"v","type":"quantitative","legend":null,"scale":{"domain":[-1.92,-1.3,-0.12,0,0.57,0.6,1.13,2.35,2.96],"range":["#00008C","#0000FF","#00FFFF","#00FFCC","#00FF60","#60FF50","#FFFF00","#FF0000","#800000"],"interpolate":"rgb"}}}},
{"data":{"values":[{"v":-1.92,"v2":2.96}]},"mark":{"type":"rect","fill":null,"stroke":"#262626","strokeWidth":7},
"encoding":{"x":{"datum":0,"type":"quantitative"},"x2":{"datum":1},"y":{"field":"v","type":"quantitative"},"y2":{"field":"v2"}}},
{"data":{"values":[{"x":1.05,"v":3.05,"s":"×10"}]},"mark":{"type":"text","align":"left","baseline":"alphabetic","fontSize":92,"color":"#262626","font":"Liberation Sans"},
"encoding":{"x":{"field":"x","type":"quantitative"},"y":{"field":"v","type":"quantitative"},"text":{"field":"s"}}},
{"data":{"values":[{"x":1.99,"v":3.14,"s":"4"}]},"mark":{"type":"text","align":"left","baseline":"alphabetic","fontSize":62,"color":"#262626","font":"Liberation Sans"},
"encoding":{"x":{"field":"x","type":"quantitative"},"y":{"field":"v","type":"quantitative"},"text":{"field":"s"}}}
]
}
]
}
